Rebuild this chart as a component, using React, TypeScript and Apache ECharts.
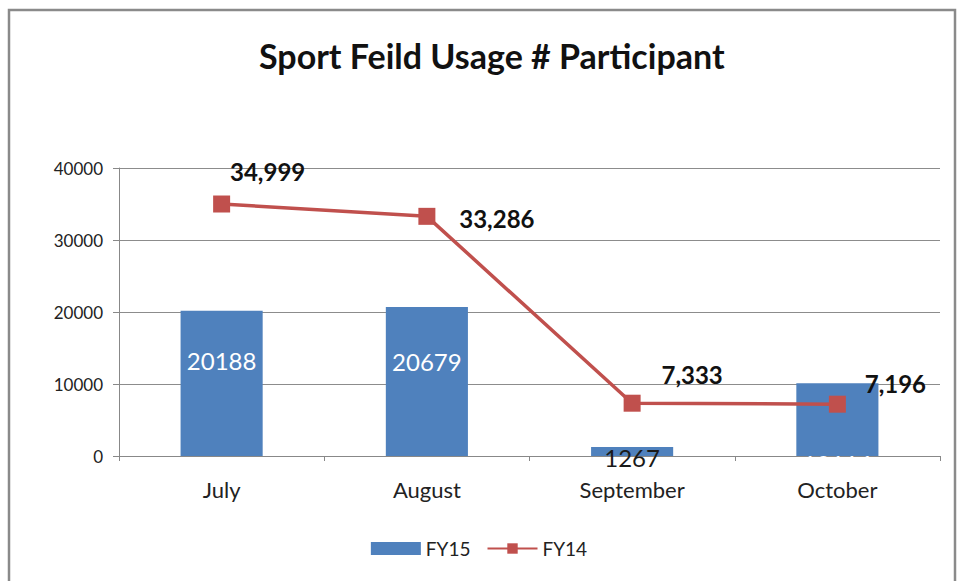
import React, { useEffect, useRef } from "react";
import * as echarts from "echarts";

const categories = ["July", "August", "September", "October"];
const fy15 = [20188, 20679, 1267, 10116];
const fy14 = [34999, 33286, 7333, 7196];
const yTicks = [0, 10000, 20000, 30000, 40000];

// label layout (pixel offsets), kept apart from the data
const barLabelOffsets = [[0, -23], [0, -20], [0, 6], [0, 44]];
const barLabelColors = ["#ffffff", "#ffffff", "#1a1a1a", "#ffffff"];
const lineLabelOffsets = [[46, -33], [70, 2], [60, -29], [58, -21]];

const FONT = "Lato, 'Open Sans', sans-serif";

export default function App() {
  const ref = useRef<HTMLDivElement>(null);
  useEffect(() => {
    document.body.style.margin = "0";
    const chart = echarts.init(ref.current!, undefined, { renderer: "svg" });
    chart.setOption({
      animation: false,
      backgroundColor: "#ffffff",
      textStyle: { fontFamily: FONT },
      title: {
        text: "Sport Feild Usage # Participant",
        left: 254,
        top: 33,
        textStyle: { fontFamily: FONT, fontSize: 34, fontWeight: "bold", color: "#111" },
      },
      graphic: [
        {
          type: "rect",
          shape: { x: 9, y: 10, width: 946, height: 600 },
          style: { fill: "none", stroke: "#8a8a8a", lineWidth: 2.5 },
          silent: true,
        },
      ],
      legend: {
        bottom: 18,
        left: "center",
        itemWidth: 50,
        itemHeight: 13,
        itemGap: 16,
        textStyle: { fontFamily: FONT, fontSize: 19, color: "#222" },
        data: [
          { name: "FY15", icon: "rect" },
          { name: "FY14" },
        ],
      },
      grid: { left: 119, right: 18, top: 168, bottom: 125 },
      xAxis: {
        type: "category",
        data: categories,
        axisLine: { lineStyle: { color: "#888", width: 1 } },
        axisTick: { show: true, alignWithLabel: false, length: 5, lineStyle: { color: "#888" } },
        axisLabel: { fontFamily: FONT, fontSize: 22, color: "#222", margin: 22 },
      },
      yAxis: {
        type: "value",
        min: yTicks[0],
        max: yTicks[yTicks.length - 1],
        interval: 10000,
        axisLine: { show: true, lineStyle: { color: "#888", width: 1 } },
        axisTick: { show: true, length: 6, lineStyle: { color: "#888" } },
        splitLine: { lineStyle: { color: "#8c8c8c", width: 1 } },
        axisLabel: {
          fontFamily: FONT,
          fontSize: 17,
          color: "#222",
          margin: 16,
          formatter: (v: number) => String(v),
        },
      },
      series: [
        {
          name: "FY15",
          type: "bar",
          barWidth: "40%",
          itemStyle: { color: "#4F81BD" },
          data: fy15.map((v, i) => ({
            value: v,
            label: {
              show: true,
              position: "inside",
              offset: barLabelOffsets[i],
              color: barLabelColors[i],
              fontFamily: FONT,
              fontSize: 24,
            },
          })),
        },
        {
          name: "FY14",
          type: "line",
          symbol: "rect",
          symbolSize: 17,
          itemStyle: { color: "#C0504D" },
          lineStyle: { color: "#C0504D", width: 3.5 },
          data: fy14.map((v, i) => ({
            value: v,
            label: {
              show: true,
              position: "inside",
              offset: lineLabelOffsets[i],
              color: "#111",
              fontFamily: FONT,
              fontWeight: "bold",
              fontSize: 24,
              formatter: (p: any) => Number(p.value).toLocaleString("en-US"),
            },
          })),
        },
      ],
    });
    return () => chart.dispose();
  }, []);
  return <div ref={ref} style={{ width: 958, height: 581 }} />;
}
